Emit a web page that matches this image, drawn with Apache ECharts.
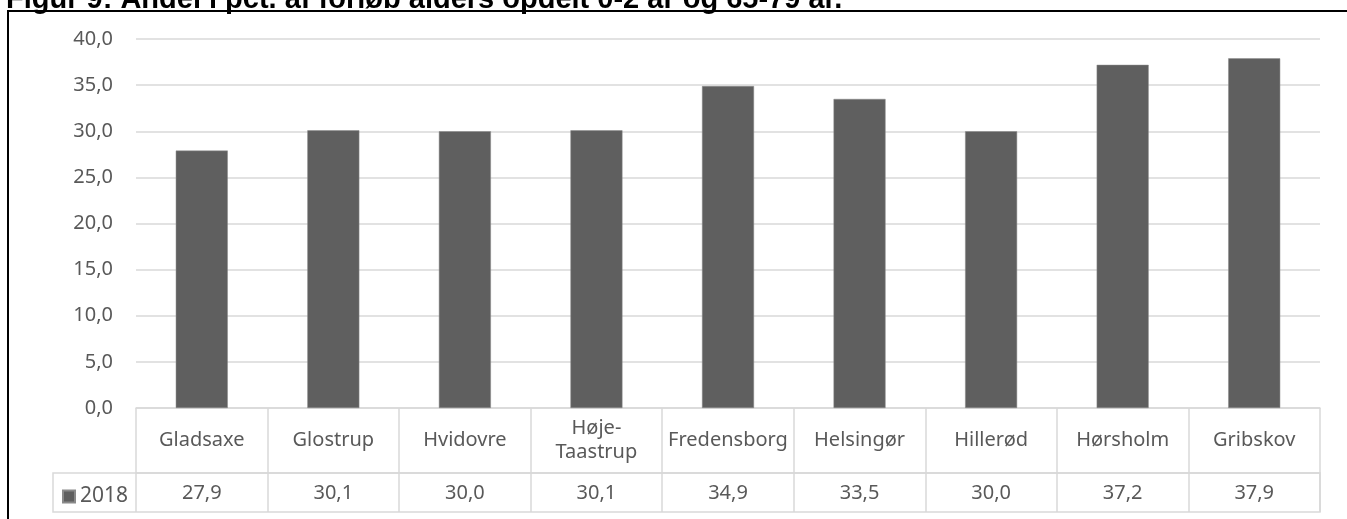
<!DOCTYPE html>
<html>
<head>
<meta charset="utf-8">
<script src="https://cdn.jsdelivr.net/npm/echarts@6/dist/echarts.min.js"></script>
<style>
  html, body { margin: 0; padding: 0; background: #fff; }
  #chart { width: 1347px; height: 519px; }
</style>
</head>
<body>
<div id="chart"></div>
<script>
var titleText = 'Figur 9: Andel i pct. af forløb alders opdelt 0-2 år og 65-79 år.';
var categories = ['Gladsaxe', 'Glostrup', 'Hvidovre', 'Høje-\nTaastrup', 'Fredensborg', 'Helsingør', 'Hillerød', 'Hørsholm', 'Gribskov'];
var seriesName = '2018';
var values2018 = [27.9, 30.1, 30.0, 30.1, 34.9, 33.5, 30.0, 37.2, 37.9];
var yTicks = { min: 0, max: 40, step: 5 };

function fmt(v) {
	return v.toFixed(1).replace('.', ',');
}

var chart = echarts.init(document.getElementById('chart'));
var font = 'Noto Sans';
var textGray = '#595959';
var lineGray = '#d9d9d9';

var option = {
	animation: false,
	title: {
		text: titleText,
		left: 1,
		top: -20,
		textStyle: { fontFamily: 'Liberation Sans', fontWeight: 'bold', fontSize: 29, color: '#000' }
	},
	legend: {
		data: [seriesName],
		left: 57,
		top: 481,
		icon: 'rect',
		itemWidth: 12,
		itemHeight: 12,
		textStyle: { fontFamily: font, fontSize: 21, color: textGray }
	},
	grid: { left: 136, right: 27, top: 39, bottom: 111 },
	xAxis: [
		{
			type: 'category',
			data: categories,
			axisLine: { show: true, lineStyle: { color: lineGray, width: 1.5 } },
			axisTick: { show: true, length: 104, interval: 0, lineStyle: { color: lineGray, width: 1.5 } },
			axisLabel: {
				interval: 0, margin: 32, verticalAlign: 'middle', lineHeight: 24,
				fontFamily: font, fontSize: 20, color: textGray
			}
		},
		{
			type: 'category',
			data: categories,
			position: 'bottom',
			offset: 65,
			axisLine: { show: true, lineStyle: { color: lineGray, width: 1.5 } },
			axisTick: { show: false },
			axisLabel: {
				interval: 0, margin: 20, verticalAlign: 'middle',
				fontFamily: font, fontSize: 20, color: textGray,
				formatter: function (v, i) { return fmt(values2018[i]); }
			}
		}
	],
	yAxis: {
		type: 'value',
		min: yTicks.min,
		max: yTicks.max,
		interval: yTicks.step,
		axisLine: { show: false },
		axisTick: { show: false },
		splitLine: { lineStyle: { color: lineGray, width: 1.5 } },
		axisLabel: {
			margin: 23, fontFamily: font, fontSize: 20, color: textGray,
			formatter: function (v) { return fmt(v); }
		}
	},
	series: [
		{
			name: seriesName,
			type: 'bar',
			xAxisIndex: 0,
			data: values2018,
			barWidth: 52,
			itemStyle: { color: '#5f5f5f', borderColor: '#8a8a8a', borderWidth: 0.5 }
		}
	],
	graphic: [
		{
			type: 'rect',
			shape: { x: 53, y: 473, width: 1267, height: 39 },
			style: { fill: 'none', stroke: lineGray, lineWidth: 1.5 },
			z: 1
		},
		{
			type: 'rect',
			shape: { x: 8, y: 11, width: 1400, height: 600 },
			style: { fill: 'none', stroke: '#000', lineWidth: 2 },
			z: 10
		}
	]
};
chart.setOption(option);
</script>
</body>
</html>
